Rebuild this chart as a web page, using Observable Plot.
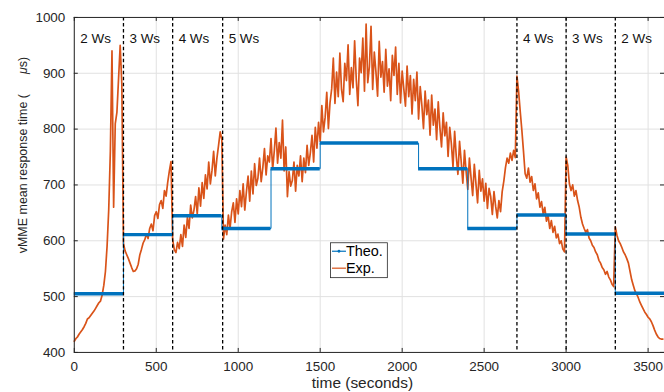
<!DOCTYPE html>
<html><head><meta charset="utf-8">
<script src="https://cdn.jsdelivr.net/npm/d3@7"></script>
<script src="https://cdn.jsdelivr.net/npm/@observablehq/plot@0.6"></script>
<style>
html,body{margin:0;padding:0;background:#fff;overflow:hidden;}
#chart{position:relative;width:664px;height:392px;overflow:hidden;}
</style></head><body><div id="chart"></div>
<script>
// ---- data ----
const xTicks = [0, 500, 1000, 1500, 2000, 2500, 3000, 3500];
const yTicks = [400, 500, 600, 700, 800, 900, 1000];
const wsLabels = ["2 Ws", "3 Ws", "4 Ws", "5 Ws", "4 Ws", "3 Ws", "2 Ws"];
const wsStart = [0, 300, 600, 905, 2700, 3000, 3300];
const dashTimes = [300, 600, 905, 2700, 3000, 3300];
const theoStart = [0, 300, 600, 900, 1200, 1500, 2100, 2400, 2700, 3000, 3300];
const theoEnd   = [300, 600, 900, 1200, 1500, 2100, 2400, 2700, 3000, 3300, 3600];
const theoValue = [505, 611, 645, 622, 729, 775, 729, 622, 646, 612, 506];
const expStep = 10; // seconds between samples
const expValues = [
  420,425,428,433,437,441,446,452,460,462,
  466,470,474,479,484,489,492,503,520,545,
  590,655,760,940,660,810,830,890,950,880,
  595,582,575,568,560,552,545,546,550,558,
  575,585,596,602,612,604,622,630,618,645,
  652,640,665,672,658,690,680,705,725,742,
  602,584,579,597,586,611,590,628,606,642,
  622,664,641,655,679,648,695,662,704,676,
  718,693,741,702,726,760,716,748,771,795,
  782,603,628,611,646,622,652,668,633,675,
  648,690,661,702,655,688,716,671,725,684,
  738,699,712,748,706,731,765,718,752,741,
  783,728,761,802,739,776,748,816,725,768,
  679,724,698,708,741,689,735,716,752,706,
  748,722,771,735,758,789,741,803,766,812,
  778,842,795,821,866,801,848,872,927,846,
  902,858,936,871,849,918,887,951,862,910,
  874,958,889,842,927,901,963,868,988,883,
  912,984,871,938,902,859,957,893,921,866,
  943,877,908,851,932,896,947,862,918,847,
  904,872,841,913,858,896,827,889,851,902,
  818,876,843,801,868,826,852,789,861,807,
  836,781,849,803,768,829,788,812,751,803,
  774,732,796,751,719,778,742,703,762,724,
  692,748,713,681,737,702,668,726,689,711,
  671,703,658,694,679,647,688,662,641,672,
  652,688,707,731,748,739,757,744,762,749,
  895,868,832,798,760,720,712,730,705,715,
  690,702,675,686,660,670,648,660,635,645,
  622,636,615,626,605,612,595,600,585,580,
  750,735,702,690,700,680,690,672,660,642,
  630,622,615,620,605,600,592,588,580,575,
  565,560,552,548,540,545,535,530,522,518,
  625,610,600,595,588,580,575,568,560,545,
  530,520,510,505,498,490,484,478,472,468,
  463,460,455,448,440,433,428,425,424,424
];
const xLabel = "time (seconds)";
const yLabelMain = "vMME mean response time (";
const yLabelUnit = "\u03bc";
const yLabelEnd = "s)";
const legendNames = ["Theo.", "Exp."];

// ---- derived tables ----
const expData = expValues.map((v, i) => ({t: i * expStep, v}));
const theoSegs = theoStart.map((s, i) => ({x1: s, x2: theoEnd[i], y: theoValue[i]}));
const theoLine = theoSegs.map(d => ({t: d.x1, v: d.y}))
  .concat([{t: theoEnd[theoEnd.length - 1], v: theoValue[theoValue.length - 1]}]);

const ink = "#262626";
const blue = "#0072BD";
const orange = "#D95319";
const font = "'Liberation Sans', Arial, Helvetica, sans-serif";

const plot = Plot.plot({
  width: 666, height: 392,
  marginLeft: 74, marginRight: 0, marginTop: 17, marginBottom: 39,
  style: {fontFamily: font, fontSize: "13.5px", color: ink, background: "#fff", overflow: "visible"},
  x: {domain: [0, 3600]},
  y: {domain: [400, 1000]},
  marks: [
    Plot.gridX(xTicks, {stroke: "#e1e1e1", strokeOpacity: 1}),
    Plot.gridY(yTicks, {stroke: "#e1e1e1", strokeOpacity: 1}),
    Plot.axisX(xTicks, {tickSize: 0, tickPadding: 9, label: null, tickFormat: d => String(d)}),
    Plot.axisY(yTicks, {tickSize: 0, tickPadding: 9, label: null, tickFormat: d => String(d)}),
    Plot.tickX(xTicks, {x: d => d, insetTop: 332, stroke: ink}),
    Plot.tickX(xTicks, {x: d => d, insetBottom: 332, stroke: ink}),
    Plot.tickY(yTicks, {y: d => d, insetRight: 588, stroke: ink}),
    Plot.tickY(yTicks, {y: d => d, insetLeft: 588, stroke: ink}),
    Plot.line(expData, {x: "t", y: "v", stroke: orange, strokeWidth: 1.7, strokeLinejoin: "round"}),
    Plot.line(theoLine, {x: "t", y: "v", curve: "step-after", stroke: blue, strokeWidth: 1}),
    Plot.ruleY(theoSegs, {x1: "x1", x2: "x2", y: "y", stroke: blue, strokeWidth: 3.5}),
    Plot.ruleX(dashTimes, {stroke: "#000", strokeWidth: 1.3, strokeDasharray: "3.5,2.5"}),
    Plot.text(wsLabels, {x: (d, i) => wsStart[i], text: d => d, frameAnchor: "top", dy: 16, dx: 6,
      textAnchor: "start", fill: "#111", fontSize: 13.5}),
    Plot.frame({stroke: ink}),
    Plot.text([xLabel], {frameAnchor: "bottom", dy: 31, dx: -7, lineAnchor: "middle", text: d => d, fontSize: 15.5, fill: ink})
  ]
});
document.getElementById("chart").appendChild(plot);

// y label with italic mu
const svg = d3.select(plot);
const yl = svg.append("text")
  .attr("transform", "translate(27,254) rotate(-90)")
  .attr("font-family", font).attr("font-size", 12.5).attr("fill", ink)
  .attr("text-anchor", "start");
yl.append("tspan").text(yLabelMain);
yl.append("tspan").attr("dx", 20).attr("font-style", "italic").text(yLabelUnit);
yl.append("tspan").text(yLabelEnd);

// legend
const lg = svg.append("g").attr("font-family", font).attr("font-size", 14.5).attr("fill", "#000")
  .attr("text-anchor", "start");
lg.append("rect").attr("x", 331.5).attr("y", 243.5).attr("width", 57).attr("height", 35)
  .attr("fill", "#fff").attr("stroke", ink).attr("stroke-width", 0.8);
const legendColors = [blue, orange];
legendNames.forEach((name, i) => {
  const yy = 252 + i * 17;
  lg.append("line").attr("x1", 333).attr("x2", 347).attr("y1", yy).attr("y2", yy)
    .attr("stroke", legendColors[i]).attr("stroke-width", 1.2);
  if (i === 0) lg.append("circle").attr("cx", 340).attr("cy", yy).attr("r", 1.4).attr("fill", blue);
  lg.append("text").attr("x", 347).attr("y", yy).attr("dy", "0.35em").attr("text-anchor", "start").text(name);
});
</script>
</body></html>
